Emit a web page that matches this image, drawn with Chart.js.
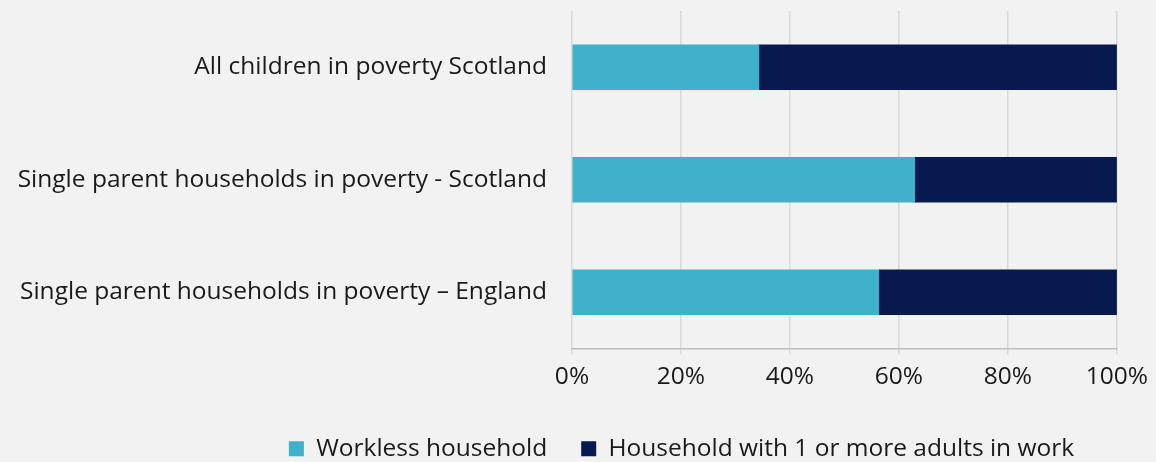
<!DOCTYPE html>
<html>
<head>
<meta charset="utf-8">
<script src="https://cdn.jsdelivr.net/npm/chart.js@4"></script>
<style>
  html, body { margin: 0; padding: 0; background: #f2f2f2; }
  #wrap { width: 1156px; height: 462px; }
</style>
</head>
<body>
<div id="wrap"><canvas id="povertyChart" width="1156" height="462"></canvas></div>
<script>
const categories = [
    "All children in poverty Scotland",
    "Single parent households in poverty - Scotland",
    "Single parent households in poverty \u2013 England"
];
const workless = [34.3, 62.9, 56.3];
const inWork = [65.7, 37.1, 43.7];
const seriesNames = ["Workless household", "Household with 1 or more adults in work"];
const tickLabels = ["0%", "20%", "40%", "60%", "80%", "100%"];

Chart.defaults.font.family = "'Open Sans', 'Noto Sans', sans-serif";
Chart.defaults.font.size = 24.5;
Chart.defaults.color = "#1a1a1a";

// nudge the legend so it sits under the right-hand part of the chart
const legendShift = {
    id: 'legendShift',
    afterLayout(chart) {
        const lg = chart.legend;
        lg.left += 123;
        lg.right += 123;
        lg.top += 6;
        lg.bottom += 6;
    }
};

drawChart();

function drawChart() {
    let ctx = document.getElementById("povertyChart");
    new Chart(ctx, {
        type: 'bar',
        data: {
            labels: categories,
            datasets: [{
                label: seriesNames[0],
                data: workless,
                backgroundColor: "#3fb1cb",
                barThickness: 45
            }, {
                label: seriesNames[1],
                data: inWork,
                backgroundColor: "#061a50",
                barThickness: 45
            }]
        },
        plugins: [legendShift],
        options: {
            indexAxis: 'y',
            responsive: false,
            animation: false,
            layout: { padding: { left: 0, right: 39, top: 11, bottom: -3 } },
            plugins: {
                tooltip: { enabled: false },
                legend: {
                    position: 'bottom',
                    labels: {
                        boxWidth: 15,
                        boxHeight: 15,
                        padding: 34,
                        color: "#1a1a1a"
                    }
                }
            },
            scales: {
                x: {
                    stacked: true,
                    min: 0,
                    max: 100,
                    border: { color: "#bfbfbf", width: 1.5 },
                    grid: { color: "#d9d9d9", lineWidth: 1.5, tickLength: 6, tickColor: "#d9d9d9" },
                    ticks: {
                        stepSize: 20,
                        padding: 8,
                        callback: function (value, index) { return tickLabels[index]; }
                    },
                    afterFit: function (scale) { scale.height = 48; }
                },
                y: {
                    stacked: true,
                    border: { display: false },
                    grid: { display: false, drawTicks: false },
                    ticks: { padding: 25 },
                    afterFit: function (scale) {
                        scale.width = 572;
                        scale.paddingTop = 0;
                        scale.paddingBottom = 0;
                    }
                }
            }
        }
    });
}
</script>
</body>
</html>
